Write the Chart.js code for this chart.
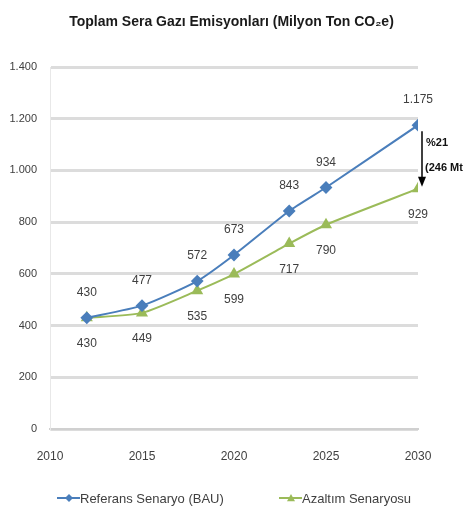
<!DOCTYPE html>
<html>
<head>
<meta charset="utf-8">
<script src="https://cdn.jsdelivr.net/npm/chart.js@4/dist/chart.umd.min.js"></script>
<style>
  html, body { margin: 0; padding: 0; background: #fff; }
  #wrap { width: 463px; height: 517px; }
</style>
</head>
<body>
<div id="wrap"><canvas id="emisyonChart"></canvas></div>
<script>
// veriler
var years = [2012, 2015, 2018, 2020, 2023, 2025, 2030];
var bau = [430, 477, 572, 673, 843, 934, 1175];
var azaltim = [430, 449, 535, 599, 717, 790, 929];
var seriesNames = ["Referans Senaryo (BAU)", "Azaltım Senaryosu"];
var chartTitle = "Toplam Sera Gazı Emisyonları (Milyon Ton CO₂e)";
var reductionText = ["%21", "(246 Mt"];

var FONT = "'Liberation Sans', Arial, sans-serif";
var BLUE = "#4a7ebb";
var GREEN = "#9bbb59";

// binlik ayırıcı nokta
function fmt(v) {
    return String(v).replace(/\B(?=(\d{3})+(?!\d))/g, ".");
}

// işaret çizimi (lejant için)
function drawMarker(g, style, cx, cy, r) {
    g.beginPath();
    if (style === "rectRot") {
        g.moveTo(cx, cy - r); g.lineTo(cx + r, cy); g.lineTo(cx, cy + r); g.lineTo(cx - r, cy);
    } else {
        g.moveTo(cx, cy - r); g.lineTo(cx + r, cy + r * 0.8); g.lineTo(cx - r, cy + r * 0.8);
    }
    g.closePath(); g.fill();
}

// başlık, nokta etiketleri, ok ve lejant
var labelPlugin = {
    id: "labels",
    afterDatasetsDraw: function (chart) {
        var ctx = chart.ctx;
        ctx.save();
        // başlık (tuval ortasında)
        ctx.font = "bold 14px " + FONT;
        ctx.fillStyle = "#1a1a1a";
        ctx.textAlign = "center";
        ctx.textBaseline = "middle";
        ctx.fillText(chartTitle, chart.width / 2, 22);

        ctx.font = "12px " + FONT;
        ctx.fillStyle = "#404040";
        chart.data.datasets.forEach(function (ds, i) {
            var meta = chart.getDatasetMeta(i);
            meta.data.forEach(function (pt, j) {
                var dy = i === 0 ? -25 : 26;
                ctx.fillText(fmt(ds.data[j].y), pt.x, pt.y + dy);
            });
        });
        // ok
        var xs = chart.scales.x, ys = chart.scales.y;
        var last = years.length - 1;
        var ax = xs.getPixelForValue(years[last]) + 4;
        var y1 = ys.getPixelForValue(bau[last]) + 6;
        var y2 = ys.getPixelForValue(azaltim[last]) - 2;
        ctx.strokeStyle = "#000"; ctx.fillStyle = "#000"; ctx.lineWidth = 1.5;
        ctx.beginPath(); ctx.moveTo(ax, y1); ctx.lineTo(ax, y2 - 6); ctx.stroke();
        ctx.beginPath(); ctx.moveTo(ax - 4, y2 - 10); ctx.lineTo(ax + 4, y2 - 10); ctx.lineTo(ax, y2); ctx.closePath(); ctx.fill();
        ctx.font = "bold 11px " + FONT;
        ctx.textAlign = "left";
        ctx.fillStyle = "#111";
        ctx.fillText(reductionText[0], ax + 4, y1 + 12);
        ctx.fillText(reductionText[1], ax + 3, y1 + 37);

        // lejant
        var legendY = 498;
        var starts = [57, 279];
        ctx.font = "13px " + FONT;
        chart.data.datasets.forEach(function (ds, i) {
            var x0 = starts[i];
            ctx.strokeStyle = ds.borderColor; ctx.fillStyle = ds.borderColor; ctx.lineWidth = 2;
            ctx.beginPath(); ctx.moveTo(x0, legendY); ctx.lineTo(x0 + 23, legendY); ctx.stroke();
            drawMarker(ctx, ds.pointStyle, x0 + 12, legendY, 4);
            ctx.fillStyle = "#404040";
            ctx.fillText(ds.label, x0 + 23, legendY + 1);
        });
        ctx.restore();
    }
};

var ctx = document.getElementById("emisyonChart");
var chart = new Chart(ctx, {
    type: "line",
    data: {
        datasets: [
            {
                label: seriesNames[0],
                data: years.map(function (y, i) { return { x: y, y: bau[i] }; }),
                borderColor: BLUE,
                backgroundColor: BLUE,
                pointStyle: "rectRot",
                pointRadius: 5,
                borderWidth: 2,
                tension: 0.2
            },
            {
                label: seriesNames[1],
                data: years.map(function (y, i) { return { x: y, y: azaltim[i] }; }),
                borderColor: GREEN,
                backgroundColor: GREEN,
                pointStyle: "triangle",
                pointRadius: 5,
                borderWidth: 2,
                tension: 0.2
            }
        ]
    },
    options: {
        responsive: true,
        maintainAspectRatio: false,
        animation: false,
        layout: { padding: { left: 9, right: 45, top: 67, bottom: 53 } },
        scales: {
            x: {
                type: "linear",
                min: 2010,
                max: 2030,
                ticks: { stepSize: 5, padding: 12, color: "#404040", font: { family: FONT, size: 12 }, callback: function (v) { return String(v); } },
                grid: { display: false },
                border: { color: "#d0d0d0", width: 2 },
                afterFit: function (scale) { scale.height = 35; }
            },
            y: {
                min: 0,
                max: 1400,
                ticks: { stepSize: 200, color: "#404040", padding: 13, font: { family: FONT, size: 11 }, callback: function (v) { return fmt(v); } },
                grid: { color: "#dcdcdc", lineWidth: 3, drawTicks: false },
                border: { display: true, color: "#e8e8e8", width: 1 },
                afterFit: function (scale) { scale.width = 41; }
            }
        },
        plugins: {
            title: { display: false },
            legend: { display: false },
            tooltip: { enabled: false }
        }
    },
    plugins: [labelPlugin]
});
</script>
</body>
</html>
